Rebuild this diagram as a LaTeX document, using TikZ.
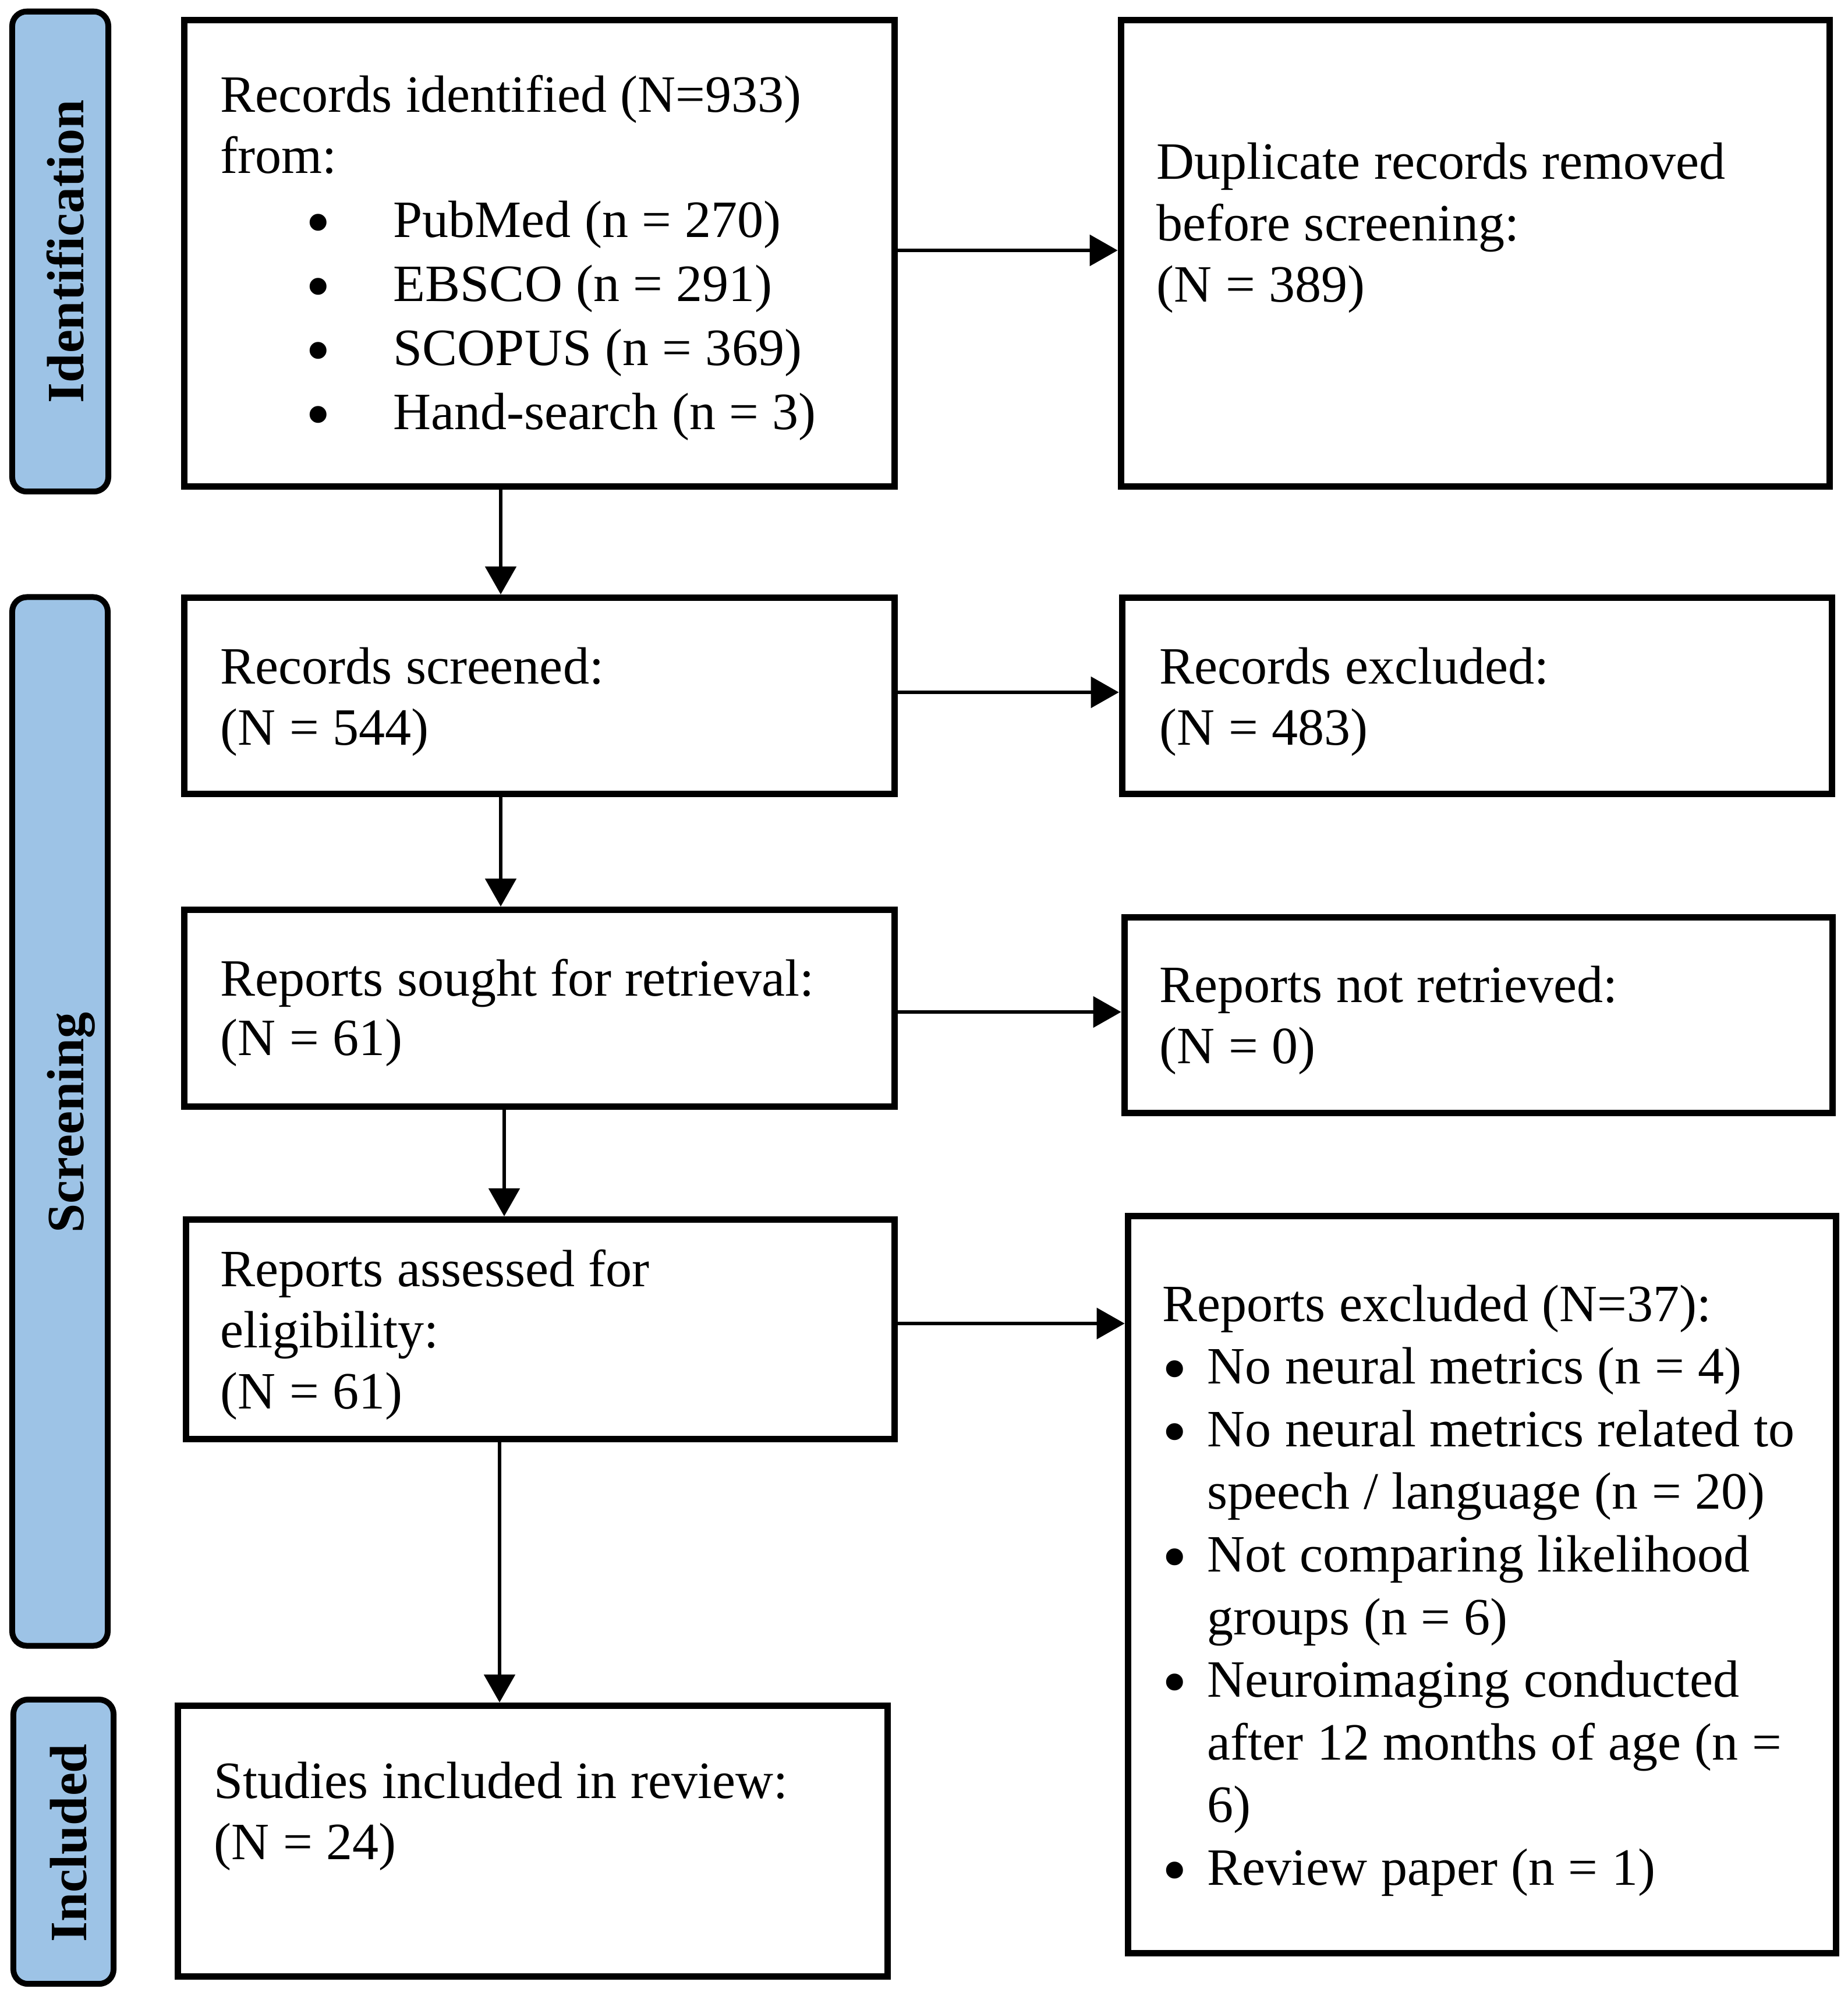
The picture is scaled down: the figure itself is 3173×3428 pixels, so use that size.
\documentclass[tikz,border=0pt]{standalone}
\usepackage{fontspec}
\usepackage{graphicx}
\setmainfont{Liberation Serif}
\usetikzlibrary{arrows.meta}
\definecolor{barblue}{HTML}{9DC3E6}
\newcommand\mybigbul{\raisebox{-0.15cm}{\scalebox{1.35}{•}}}
\newcommand\myblt[2]{\makebox[#2][l]{\hspace*{#1}\mybigbul}}
\newcommand\mysk{\spaceskip=0.26em\xspaceskip=0.26em\relax}
\tikzset{
  box/.style={draw, line width=0.11cm, fill=white, inner sep=0pt, rectangle},
  sidebar/.style={draw, line width=0.10cm, fill=barblue, inner sep=0pt, rectangle, rounded corners=0.25cm},
  lab/.style={font=\fontsize{25.6pt}{29.9pt}\selectfont\bfseries, rotate=90, anchor=base, inner sep=0pt},
  txt/.style={font=\fontsize{25.6pt}{#1}\selectfont, text width=11.6cm, align=left, anchor=base west, inner sep=0pt},
  txt/.default=29.9pt,
  arr/.style={line width=0.055cm, -{Triangle[length=0.48cm,width=0.53cm]}}
}
\begin{document}
\begin{tikzpicture}[x=0.01cm,y=-0.01cm]
\fill[white] (0,0) rectangle (3173,3428);
\useasboundingbox (0,0) rectangle (3173,3428);
% side bars
\node[sidebar, minimum width=1.65cm, minimum height=8.24cm] (s1) at (103.5,432) {};
\node[sidebar, minimum width=1.64cm, minimum height=18.00cm] (s2) at (103,1926) {};
\node[sidebar, minimum width=1.72cm, minimum height=4.88cm] (s3) at (109,3163) {};
\node[lab] (l1) at (143.5,432) {Identification};
\node[lab] (l2) at (143,1928) {Screening};
\node[lab] (l3) at (148,3165) {Included};
% boxes
\node[box, minimum width=12.20cm, minimum height=8.01cm] (b1) at (926.5,435) {};
\node[box, minimum width=12.17cm, minimum height=8.01cm] (b2) at (2534,435) {};
\node[box, minimum width=12.20cm, minimum height=3.37cm] (b3) at (926.5,1195) {};
\node[box, minimum width=12.19cm, minimum height=3.37cm] (b4) at (2537,1195) {};
\node[box, minimum width=12.20cm, minimum height=3.38cm] (b5) at (926.5,1731.5) {};
\node[box, minimum width=12.16cm, minimum height=3.36cm] (b6) at (2539.5,1743.5) {};
\node[box, minimum width=12.17cm, minimum height=3.77cm] (b7) at (928,2283) {};
\node[box, minimum width=12.16cm, minimum height=12.66cm] (b8) at (2545.5,2721.5) {};
\node[box, minimum width=12.19cm, minimum height=4.65cm] (b9) at (915,3162) {};
% texts
\node[txt=31.3pt] (t1) at (378,193) {\mysk Records identified (N=933)\\[-0.06cm]
from:\\
\myblt{1.47cm}{2.97cm}PubMed (n = 270)\\
\myblt{1.47cm}{2.97cm}EBSCO (n = 291)\\
\myblt{1.47cm}{2.97cm}SCOPUS (n = 369)\\
\myblt{1.47cm}{2.97cm}Hand-search (n = 3)};
\node[txt] (t2) at (1986,308) {\mysk Duplicate records removed\\ before screening:\\ (N = 389)};
\node[txt] (t3) at (378,1174) {\mysk Records screened:\\ (N = 544)};
\node[txt] (t4) at (1991,1174) {\mysk Records excluded:\\ (N = 483)};
\node[txt=29.2pt] (t5) at (378,1710) {\mysk Reports sought for retrieval:\\ (N = 61)};
\node[txt] (t6) at (1991,1721) {\mysk Reports not retrieved:\\ (N = 0)};
\node[txt] (t7) at (378,2209) {\mysk Reports assessed for\\ eligibility:\\ (N = 61)};
\node[txt=30.6pt] (t8) at (1996,2269) {\mysk Reports excluded (N=37):\\
\myblt{0cm}{0.77cm}No neural metrics (n = 4)\\
\myblt{0cm}{0.77cm}No neural metrics related to\\
\hspace*{0.77cm}speech / language (n = 20)\\
\myblt{0cm}{0.77cm}Not comparing likelihood\\
\hspace*{0.77cm}groups (n = 6)\\
\myblt{0cm}{0.77cm}Neuroimaging conducted\\
\hspace*{0.77cm}after 12 months of age (n =\\
\hspace*{0.77cm}6)\\
\myblt{0cm}{0.77cm}Review paper (n = 1)};
\node[txt] (t9) at (367,3088) {\mysk Studies included in review:\\ (N = 24)};
% arrow guide coordinates
\coordinate (v1) at (860,0);
\coordinate (v2) at (866,0);
\coordinate (v3) at (858,0);
\coordinate (h1) at (0,430);
\coordinate (h2) at (0,1189);
\coordinate (h3) at (0,1738);
\coordinate (h4) at (0,2273);
% arrows
\draw[arr] (b1.south -| v1) -- (b3.north -| v1);
\draw[arr] (b3.south -| v1) -- (b5.north -| v1);
\draw[arr] (b5.south -| v2) -- (b7.north -| v2);
\draw[arr] (b7.south -| v3) -- (b9.north -| v3);
\draw[arr] (b1.east |- h1) -- (b2.west |- h1);
\draw[arr] (b3.east |- h2) -- (b4.west |- h2);
\draw[arr] (b5.east |- h3) -- (b6.west |- h3);
\draw[arr] (b7.east |- h4) -- (b8.west |- h4);
\end{tikzpicture}
\end{document}
